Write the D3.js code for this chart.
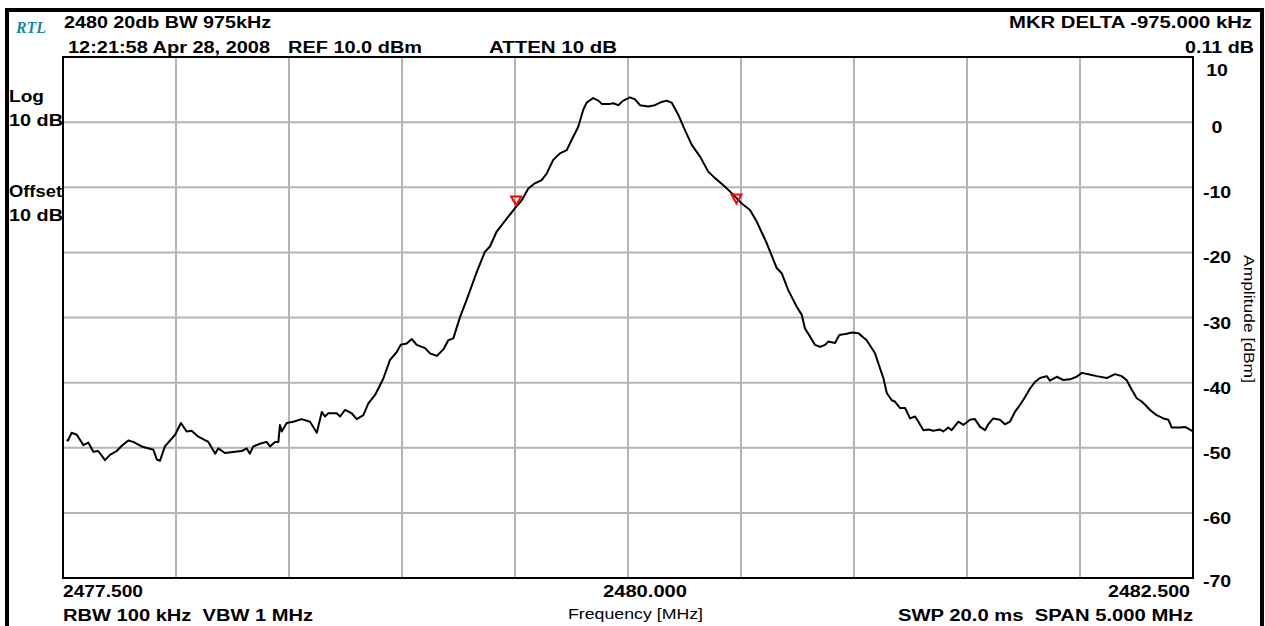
<!DOCTYPE html>
<html>
<head>
<meta charset="utf-8">
<script src="https://cdn.jsdelivr.net/npm/d3@7"></script>
<style>
  html, body { margin: 0; padding: 0; background: #fff; }
  svg { display: block; }
  text { font-family: "Liberation Sans", Arial, sans-serif; white-space: pre; }
</style>
</head>
<body>
<svg id="chart" width="1265" height="626"></svg>
<script>
// ---- data ----
const freqMHz = [2477.516,2477.522,2477.538,2477.561,2477.590,2477.612,2477.634,2477.656,2477.686,2477.708,2477.738,2477.760,2477.789,2477.811,2477.848,2477.900,2477.915,2477.929,2477.951,2477.996,2478.022,2478.047,2478.069,2478.099,2478.143,2478.173,2478.187,2478.217,2478.261,2478.291,2478.313,2478.327,2478.342,2478.379,2478.401,2478.416,2478.438,2478.453,2478.460,2478.468,2478.490,2478.519,2478.556,2478.593,2478.623,2478.645,2478.659,2478.674,2478.711,2478.726,2478.748,2478.777,2478.800,2478.829,2478.851,2478.881,2478.917,2478.947,2478.977,2478.994,2479.021,2479.043,2479.065,2479.102,2479.124,2479.154,2479.183,2479.205,2479.227,2479.257,2479.286,2479.331,2479.367,2479.389,2479.419,2479.448,2479.500,2479.530,2479.559,2479.588,2479.618,2479.640,2479.669,2479.699,2479.729,2479.751,2479.780,2479.802,2479.817,2479.846,2479.869,2479.884,2479.920,2479.935,2479.957,2479.979,2480.009,2480.031,2480.053,2480.090,2480.119,2480.149,2480.171,2480.193,2480.223,2480.245,2480.282,2480.319,2480.355,2480.385,2480.422,2480.459,2480.503,2480.540,2480.570,2480.614,2480.658,2480.680,2480.709,2480.746,2480.769,2480.783,2480.805,2480.827,2480.850,2480.872,2480.886,2480.916,2480.935,2480.968,2480.990,2481.019,2481.056,2481.093,2481.115,2481.130,2481.145,2481.167,2481.181,2481.204,2481.226,2481.248,2481.270,2481.285,2481.307,2481.329,2481.351,2481.381,2481.395,2481.417,2481.432,2481.462,2481.484,2481.513,2481.535,2481.558,2481.580,2481.594,2481.616,2481.646,2481.668,2481.690,2481.712,2481.735,2481.757,2481.779,2481.801,2481.823,2481.853,2481.867,2481.897,2481.926,2481.956,2481.985,2482.008,2482.037,2482.074,2482.118,2482.155,2482.184,2482.206,2482.229,2482.251,2482.273,2482.288,2482.310,2482.339,2482.369,2482.391,2482.406,2482.443,2482.465,2482.490,2482.500];
const amplitudeDbm = [-48.8,-48.9,-47.7,-48.0,-49.6,-49.2,-50.6,-50.5,-51.9,-51.1,-50.5,-49.7,-48.9,-49.1,-49.8,-50.3,-51.8,-52.0,-49.8,-48.0,-46.2,-47.5,-47.4,-48.3,-49.1,-50.9,-50.1,-50.8,-50.6,-50.5,-50.1,-50.9,-49.8,-49.3,-49.1,-49.8,-49.1,-49.1,-46.5,-47.5,-46.2,-46.0,-45.6,-46.0,-47.7,-44.5,-45.2,-44.7,-44.7,-45.2,-44.2,-44.7,-45.6,-45.0,-43.2,-41.9,-39.4,-36.5,-35.3,-34.2,-34.0,-33.3,-34.2,-34.7,-35.5,-35.9,-34.9,-33.5,-33.2,-29.9,-27.3,-23.0,-19.9,-19.1,-16.8,-15.5,-13.2,-12.0,-10.2,-9.4,-8.9,-7.9,-5.8,-4.8,-4.3,-2.7,-0.7,1.9,3.0,3.7,3.3,2.8,2.8,2.9,2.6,3.3,3.8,3.5,2.6,2.4,2.6,3.1,3.3,3.0,1.1,-0.7,-3.5,-5.3,-7.6,-8.6,-9.7,-10.9,-12.5,-13.5,-15.3,-18.6,-22.4,-23.2,-25.8,-28.3,-29.6,-31.7,-32.9,-34.2,-34.5,-34.2,-33.7,-33.9,-32.7,-32.5,-32.3,-32.4,-33.5,-35.5,-37.8,-39.3,-41.6,-42.7,-42.9,-43.9,-43.9,-45.5,-45.2,-46.0,-47.3,-47.2,-47.4,-47.2,-47.5,-46.9,-47.3,-46.0,-46.5,-45.7,-45.6,-46.8,-47.3,-46.4,-45.5,-45.7,-46.4,-46.0,-44.5,-43.4,-42.2,-40.9,-39.9,-39.3,-39.0,-39.7,-39.1,-39.6,-39.5,-39.1,-38.5,-38.7,-39.0,-39.3,-38.7,-39.0,-39.6,-41.1,-42.4,-42.9,-43.4,-44.2,-45.0,-45.5,-45.7,-46.9,-46.9,-46.8,-47.3,-47.5];
const markerFreqs = [2479.505, 2480.480];
const markerLevels = [-12.8, -12.5];
const yTickValues = [10, 0, -10, -20, -30, -40, -50, -60, -70];
const xTickValues = [2477.5, 2480.0, 2482.5];
const xTickLabels = ["2477.500", "2480.000", "2482.500"];
const freqDomain = [2477.5, 2482.5];
const ampDomain = [-70, 10];

// ---- layout ----
const svg = d3.select("#chart");
const L = 63, R = 1193, T = 57, B = 578;
const x = d3.scaleLinear().domain(freqDomain).range([L, R]);
const y = d3.scaleLinear().domain(ampDomain).range([B, T]);

// outer frame
svg.append("rect").attr("x", 7).attr("y", 10).attr("width", 1255).attr("height", 640)
  .attr("fill", "none").attr("stroke", "#000").attr("stroke-width", 4);

// grid
const vGrid = d3.range(11).map(i => freqDomain[0] + i * (freqDomain[1] - freqDomain[0]) / 10);
svg.append("g").selectAll("line").data(vGrid.slice(1, -1)).join("line")
  .attr("x1", d => x(d)).attr("x2", d => x(d)).attr("y1", T).attr("y2", B)
  .attr("stroke", "#b4b4b4").attr("stroke-width", 2);
svg.append("g").selectAll("line").data(yTickValues.slice(1, -1)).join("line")
  .attr("x1", L).attr("x2", R).attr("y1", d => y(d)).attr("y2", d => y(d))
  .attr("stroke", "#b4b4b4").attr("stroke-width", 2);

// plot frame
svg.append("rect").attr("x", L).attr("y", T).attr("width", R - L).attr("height", B - T)
  .attr("fill", "none").attr("stroke", "#000").attr("stroke-width", 2);

// trace
const pts = freqMHz.map((f, i) => [f, amplitudeDbm[i]]);
svg.append("path").datum(pts)
  .attr("d", d3.line().x(d => x(d[0])).y(d => y(d[1])))
  .attr("fill", "none").attr("stroke", "#000").attr("stroke-width", 2)
  .attr("stroke-linejoin", "round");

// markers (downward triangles, tip on trace)
svg.append("g").selectAll("path").data(markerFreqs.map((f, i) => [f, markerLevels[i]])).join("path")
  .attr("d", d => {
    const cx = x(d[0]), cy = y(d[1]);
    return `M${cx - 5},${cy - 9}L${cx + 5},${cy - 9}L${cx},${cy}Z`;
  })
  .attr("fill", "none").attr("stroke", "#ff0000").attr("stroke-width", 2);

// helper: stretched bold text (reference uses a wide bitmap font)
function wide(sel, k) {
  sel.each(function () {
    const w = this.getComputedTextLength();
    d3.select(this).attr("textLength", w * k).attr("lengthAdjust", "spacingAndGlyphs");
  });
}

// right y tick labels
const yt = svg.append("g").selectAll("text").data(yTickValues).join("text")
  .attr("x", 1217)
  .attr("y", (d, i) => y(d) + (i === 0 ? 19 : (i === yTickValues.length - 1 ? 9 : 11)))
  .attr("text-anchor", "middle")
  .attr("font-size", 16).attr("font-weight", "bold")
  .text(d => d);
wide(yt, 1.22);

// x tick labels
const xtPos = [[63, 143], [603, 687], [1108, 1190]];
svg.append("g").selectAll("text").data(xTickValues).join("text")
  .attr("x", (d, i) => xtPos[i][0]).attr("y", 597)
  .attr("font-size", 16).attr("font-weight", "bold")
  .attr("textLength", (d, i) => xtPos[i][1] - xtPos[i][0])
  .attr("lengthAdjust", "spacingAndGlyphs")
  .text((d, i) => xTickLabels[i]);

// header texts
svg.append("text").attr("x", 16).attr("y", 33)
  .style("font-family", "'Liberation Serif', 'DejaVu Serif', serif")
  .attr("font-style", "italic").attr("font-weight", "bold").attr("font-size", 16)
  .attr("textLength", 30).attr("lengthAdjust", "spacingAndGlyphs")
  .attr("fill", "#138a99").text("RTL");
const bold = (t, x0, x1, yy) => svg.append("text").attr("x", x0).attr("y", yy)
  .attr("font-size", 16).attr("font-weight", "bold")
  .attr("textLength", x1 - x0).attr("lengthAdjust", "spacingAndGlyphs").text(t);
bold("2480 20db BW 975kHz", 64, 271, 28);
bold("12:21:58 Apr 28, 2008", 68, 270, 53);
bold("REF 10.0 dBm", 288, 422, 53);
bold("ATTEN 10 dB", 489, 617, 53);
bold("MKR DELTA -975.000 kHz", 1009, 1252, 28);
bold("0.11 dB", 1185, 1254, 53);
bold("Log", 9, 44, 102);
bold("10 dB", 9, 63, 126);
bold("Offset", 9, 62, 197);
bold("10 dB", 9, 63, 221);
bold("RBW 100 kHz  VBW 1 MHz", 63, 313, 621);
bold("SWP 20.0 ms  SPAN 5.000 MHz", 898, 1193, 621);

// axis titles
svg.append("text").attr("x", 568).attr("y", 619)
  .attr("font-size", 15).attr("textLength", 135).attr("lengthAdjust", "spacingAndGlyphs")
  .text("Frequency [MHz]");
svg.append("text").attr("transform", "translate(1244,255) rotate(90)")
  .attr("font-size", 15).attr("textLength", 128).attr("lengthAdjust", "spacingAndGlyphs")
  .text("Amplitude [dBm]");
</script>
</body>
</html>
